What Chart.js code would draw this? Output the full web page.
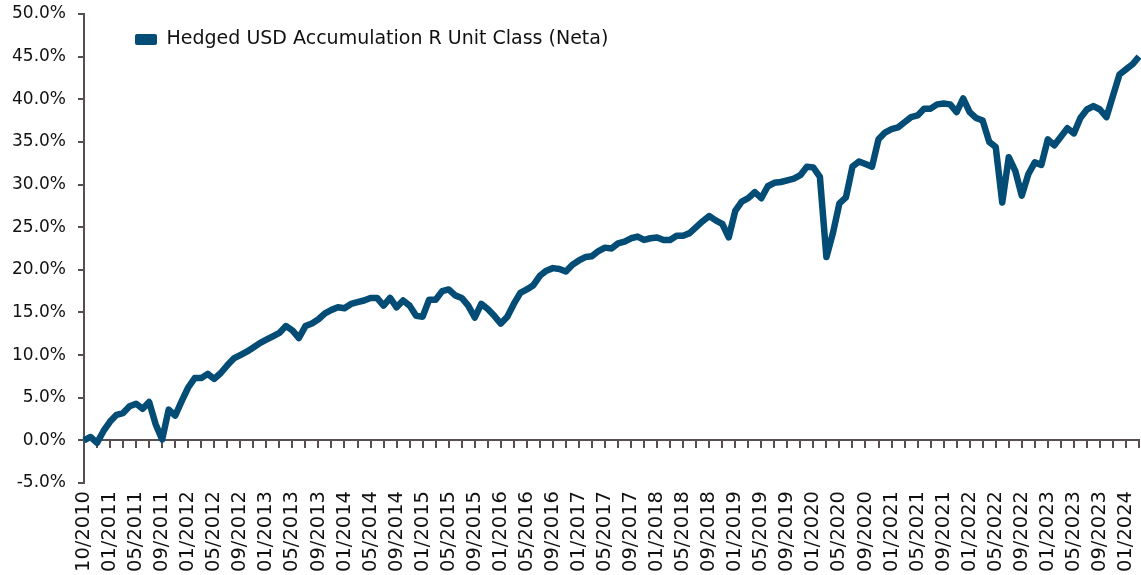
<!DOCTYPE html>
<html>
<head>
<meta charset="utf-8">
<script src="https://cdn.jsdelivr.net/npm/chart.js@4.4.1/dist/chart.umd.min.js"></script>
<style>
  html, body { margin: 0; padding: 0; background: #fff; }
  #wrap { width: 1141px; height: 575px; }
</style>
</head>
<body>
<div id="wrap"><canvas id="grafico"></canvas></div>
<script>
// Série e rótulos
var nomeSerie = 'Hedged USD Accumulation R Unit Class (Neta)';

// categorias: ponto inicial + meses de 10/2010 a 03/2024
var categorias = ['10/2010'];
for (var ano = 2010; ano <= 2024; ano++) {
    for (var mes = 1; mes <= 12; mes++) {
        if (ano === 2010 && mes < 10) continue;
        if (ano === 2024 && mes > 3) break;
        categorias.push((mes < 10 ? '0' : '') + mes + '/' + ano);
    }
}

// rendimento acumulado (%)
var rendimento = [
    0.0, 0.4, -0.3, 1.1, 2.2, 3.0, 3.2, 4.0, 4.3, 3.7,
    4.5, 1.9, 0.1, 3.6, 2.9, 4.6, 6.2, 7.3, 7.3, 7.8,
    7.2, 7.9, 8.8, 9.6, 10.0, 10.4, 10.9, 11.4, 11.8, 12.2,
    12.6, 13.4, 12.9, 12.0, 13.4, 13.7, 14.2, 14.9, 15.3, 15.6,
    15.5, 16.0, 16.2, 16.4, 16.7, 16.7, 15.8, 16.7, 15.6, 16.4,
    15.8, 14.6, 14.5, 16.5, 16.5, 17.5, 17.7, 17.0, 16.7, 15.8,
    14.4, 16.0, 15.4, 14.6, 13.7, 14.5, 16.0, 17.3, 17.7, 18.2,
    19.3, 19.9, 20.2, 20.1, 19.8, 20.6, 21.1, 21.5, 21.6, 22.2,
    22.6, 22.5, 23.1, 23.3, 23.7, 23.9, 23.5, 23.7, 23.8, 23.5,
    23.5, 24.0, 24.0, 24.3, 25.0, 25.7, 26.3, 25.8, 25.4, 23.8,
    26.9, 28.0, 28.4, 29.1, 28.4, 29.8, 30.2, 30.3, 30.5, 30.7,
    31.1, 32.1, 32.0, 30.9, 21.5, 24.3, 27.8, 28.5, 32.1, 32.7,
    32.4, 32.1, 35.3, 36.1, 36.5, 36.7, 37.3, 37.9, 38.1, 38.9,
    38.9, 39.4, 39.5, 39.4, 38.5, 40.1, 38.5, 37.8, 37.5, 35.0,
    34.4, 27.9, 33.2, 31.6, 28.7, 31.2, 32.6, 32.3, 35.3, 34.6,
    35.6, 36.6, 36.0, 37.8, 38.8, 39.2, 38.8, 37.9, 40.4, 42.9,
    43.5, 44.1, 45.0
];

// eixo Y
var yMin = -5;
var yMax = 50;
var yPasso = 5;

var corLinha = '#034C75';
var corEixo = '#574F4F';
var fonte = 'DejaVu Sans';

// desloca a legenda dentro da área do gráfico
var moverLegenda = {
    id: 'moverLegenda',
    afterLayout: function (chart) {
        if (chart.legend) {
            chart.legend.left += 37;
            chart.legend.right += 37;
            chart.legend.top += 16;
            chart.legend.bottom += 16;
        }
    }
};

var ctx = document.getElementById('grafico').getContext('2d');

new Chart(ctx, {
    type: 'line',
    data: {
        labels: categorias,
        datasets: [{
            label: nomeSerie,
            data: rendimento,
            borderColor: corLinha,
            backgroundColor: corLinha,
            borderWidth: 6.5,
            pointRadius: 0,
            tension: 0,
            borderJoinStyle: 'round',
            xAxisID: 'x',
            yAxisID: 'y'
        }]
    },
    options: {
        responsive: true,
        maintainAspectRatio: false,
        animation: false,
        layout: {
            padding: { top: 14, left: 0, right: 2, bottom: -5 }
        },
        plugins: {
            tooltip: { enabled: false },
            legend: {
                position: 'chartArea',
                align: 'start',
                labels: {
                    boxWidth: 22,
                    boxHeight: 11,
                    padding: 14,
                    color: '#111',
                    font: { family: fonte, size: 19 },
                    useBorderRadius: true,
                    borderRadius: 2,
                    generateLabels: function (chart) {
                        return Chart.defaults.plugins.legend.labels.generateLabels(chart).map(function (l) {
                            l.lineWidth = 0;
                            return l;
                        });
                    }
                }
            }
        },
        scales: {
            x: {
                type: 'category',
                position: 'bottom',
                offset: false,
                grid: { display: false, drawTicks: false },
                border: { display: false },
                afterFit: function (scale) {
                    scale.paddingRight = 0;
                    scale.paddingLeft = 0;
                },
                ticks: {
                    autoSkip: false,
                    minRotation: 90,
                    maxRotation: 90,
                    padding: 8,
                    color: '#111',
                    font: { family: fonte, size: 19.5 },
                    callback: function (valor, indice) {
                        return indice % 4 === 0 ? categorias[indice] : '';
                    }
                }
            },
            // eixo na linha do zero, só com as marcas
            x0: {
                type: 'category',
                position: { y: 0 },
                offset: false,
                grid: {
                    drawOnChartArea: false,
                    drawTicks: true,
                    tickLength: 7,
                    lineWidth: 2,
                    color: function (c) {
                        return c.index % 2 === 0 ? corEixo : 'rgba(0,0,0,0)';
                    }
                },
                border: { display: true, color: corEixo, width: 2 },
                ticks: { display: false, autoSkip: false }
            },
            y: {
                min: yMin,
                max: yMax,
                afterFit: function (scale) {
                    scale.paddingTop = 10;
                    scale.paddingBottom = 10;
                },
                grid: {
                    drawOnChartArea: false,
                    drawTicks: true,
                    tickLength: 6,
                    lineWidth: 2,
                    color: corEixo
                },
                border: { display: true, color: corEixo, width: 2 },
                ticks: {
                    stepSize: yPasso,
                    padding: 12,
                    color: '#111',
                    font: { family: fonte, size: 17 },
                    callback: function (v) {
                        return v.toFixed(1) + '%';
                    }
                }
            }
        }
    },
    plugins: [moverLegenda]
});
</script>
</body>
</html>
